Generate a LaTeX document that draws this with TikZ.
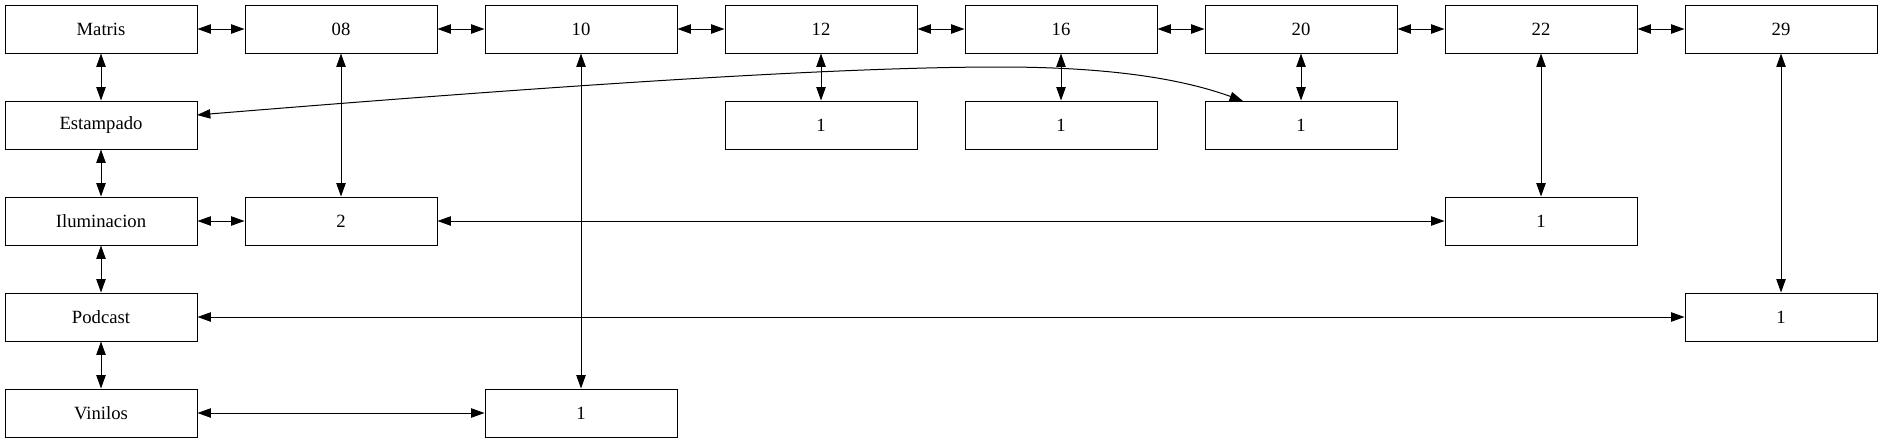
\documentclass[tikz,border=0pt]{standalone}
\usepackage{fontspec}
\setmainfont{Liberation Serif}
\usetikzlibrary{arrows.meta}

\begin{document}
\begin{tikzpicture}[x=0.75pt, y=-0.75pt,
  box/.style={draw, line width=0.75pt, minimum width=144pt, minimum height=36pt,
    inner sep=0pt, font=\fontsize{14}{16}\selectfont},
  link/.style={line width=0.75pt,
    {Triangle[length=10pt,width=7pt]}-{Triangle[length=10pt,width=7pt]}}]

  % Fix the page size (pixel units, y pointing down)
  \useasboundingbox (0,0) rectangle (1883,443);

  %-----------------------------
  % Top row: the chain of years
  \node[box] (matris) at (101,29) {Matris};
  \node[box] (n08) at (341,29) {08};
  \node[box] (n10) at (581,29) {10};
  \node[box] (n12) at (821,29) {12};
  \node[box] (n16) at (1061,29) {16};
  \node[box] (n20) at (1301,29) {20};
  \node[box] (n22) at (1541,29) {22};
  \node[box] (n29) at (1781,29) {29};

  %-----------------------------
  % Left column: the categories
  \node[box] (estampado) at (101,125) {Estampado};
  \node[box] (iluminacion) at (101,221) {Iluminacion};
  \node[box] (podcast) at (101,317) {Podcast};
  \node[box] (vinilos) at (101,413) {Vinilos};

  %-----------------------------
  % Counts
  \node[box] (one12) at (821,125) {1};
  \node[box] (one16) at (1061,125) {1};
  \node[box] (one20) at (1301,125) {1};
  \node[box] (two08) at (341,221) {2};
  \node[box] (one22) at (1541,221) {1};
  \node[box] (one29) at (1781,317) {1};
  \node[box] (one10) at (581,413) {1};

  %-----------------------------
  % Links along the top row and down the left column
  \draw[link] (matris) -- (n08);
  \draw[link] (n08) -- (n10);
  \draw[link] (n10) -- (n12);
  \draw[link] (n12) -- (n16);
  \draw[link] (n16) -- (n20);
  \draw[link] (n20) -- (n22);
  \draw[link] (n22) -- (n29);
  \draw[link] (matris) -- (estampado);
  \draw[link] (estampado) -- (iluminacion);
  \draw[link] (iluminacion) -- (podcast);
  \draw[link] (podcast) -- (vinilos);

  %-----------------------------
  % Links from the years down to the counts
  \draw[link] (n08) -- (two08);
  \draw[link] (n10) -- (one10);
  \draw[link] (n12) -- (one12);
  \draw[link] (n16) -- (one16);
  \draw[link] (n20) -- (one20);
  \draw[link] (n22) -- (one22);
  \draw[link] (n29) -- (one29);

  %-----------------------------
  % Links from the categories across to the counts
  \draw[link] (iluminacion) -- (two08);
  \draw[link] (two08) -- (one22);
  \draw[link] (podcast) -- (one29);
  \draw[link] (vinilos) -- (one10);

  % Estampado reaches over to the count under 20
  \coordinate (estEnd) at (197,115);
  \coordinate (topMid) at (1000,67);
  \coordinate (oneTop) at (1243,101);
  \draw[link] (estEnd) .. controls (600,82) and (850,67) .. (topMid)
    .. controls (1115,67) and (1185,80) .. (oneTop);
\end{tikzpicture}
\end{document}
